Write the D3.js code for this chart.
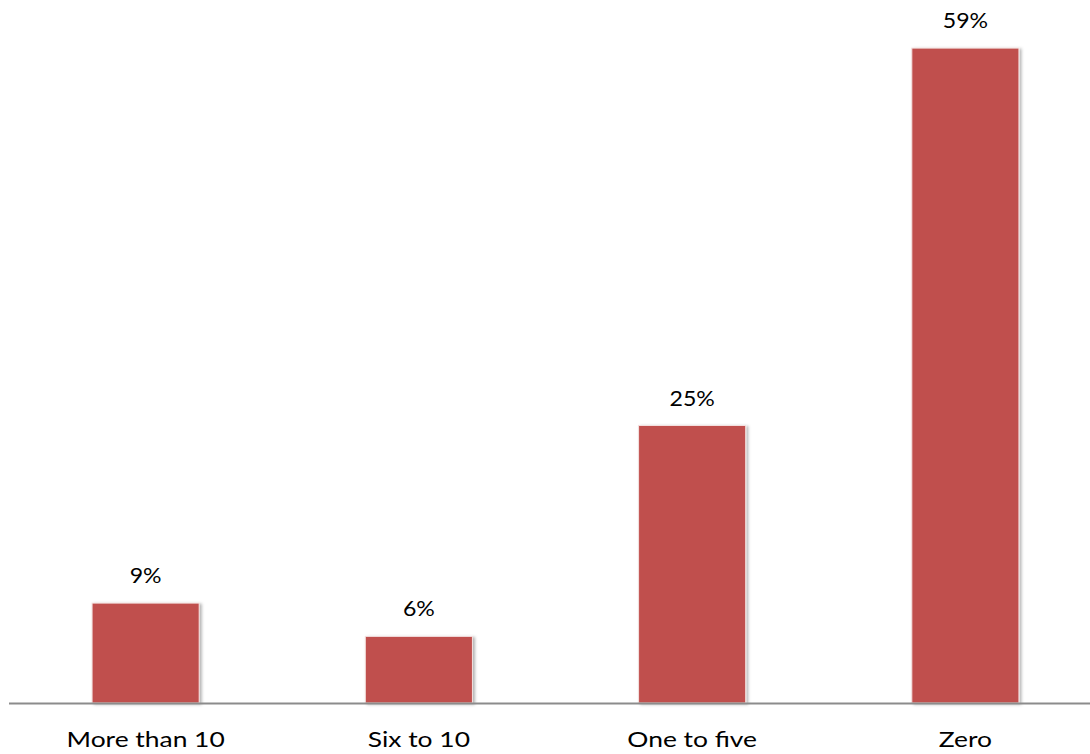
<!DOCTYPE html>
<html><head><meta charset="utf-8">
<script src="https://cdn.jsdelivr.net/npm/d3@7"></script>
<style>html,body{margin:0;padding:0;background:#fff;}svg{display:block;}</style>
</head><body>
<script>
const categories = ["More than 10", "Six to 10", "One to five", "Zero"];
const values = [9, 6, 25, 59];
const valueLabels = ["9%", "6%", "25%", "59%"];

const W = 1090, H = 754;
const svg = d3.select("body").append("svg").attr("width", W).attr("height", H);
const defs = svg.append("defs");
const f = defs.append("filter").attr("id","sh").attr("x","-10%").attr("y","-10%").attr("width","130%").attr("height","130%");
f.append("feDropShadow").attr("dx",2).attr("dy",1).attr("stdDeviation",1.5).attr("flood-color","#000").attr("flood-opacity",0.3);

const x = d3.scaleBand().domain(categories).range([9, 1102]).paddingInner(0.608).paddingOuter(0.304);
const y = d3.scaleLinear().domain([0, 60]).range([703, 37]);

svg.selectAll("rect.bar").data(values).enter().append("rect")
  .attr("class","bar")
  .attr("x",(d,i)=>x(categories[i]))
  .attr("y",d=>y(d))
  .attr("width",x.bandwidth())
  .attr("height",d=>y(0)-y(d))
  .attr("fill","#C0504D")
  .attr("stroke","#f4e0df").attr("stroke-width",1)
  .attr("filter","url(#sh)");

svg.append("line").attr("x1",9).attr("x2",W).attr("y1",y(0)+0.5).attr("y2",y(0)+0.5)
  .attr("stroke","#8c8c8c").attr("stroke-width",2);

svg.selectAll("text.val").data(values).enter().append("text")
  .attr("class","val")
  .attr("transform",(d,i)=>`translate(${x(categories[i])+x.bandwidth()/2},${y(d)-20}) scale(1.05,1)`)
  .attr("text-anchor","middle")
  .attr("font-family","Lato, 'Open Sans', sans-serif")
  .attr("font-size",22)
  .attr("fill","#000")
  .text((d,i)=>valueLabels[i]);

svg.selectAll("text.cat").data(categories).enter().append("text")
  .attr("class","cat")
  .attr("transform",d=>`translate(${x(d)+x.bandwidth()/2},747) scale(1.2,1)`)
  .attr("text-anchor","middle")
  .attr("font-family","Lato, 'Open Sans', sans-serif")
  .attr("font-size",22)
  .attr("fill","#000")
  .text(d=>d);
</script>
</body></html>
